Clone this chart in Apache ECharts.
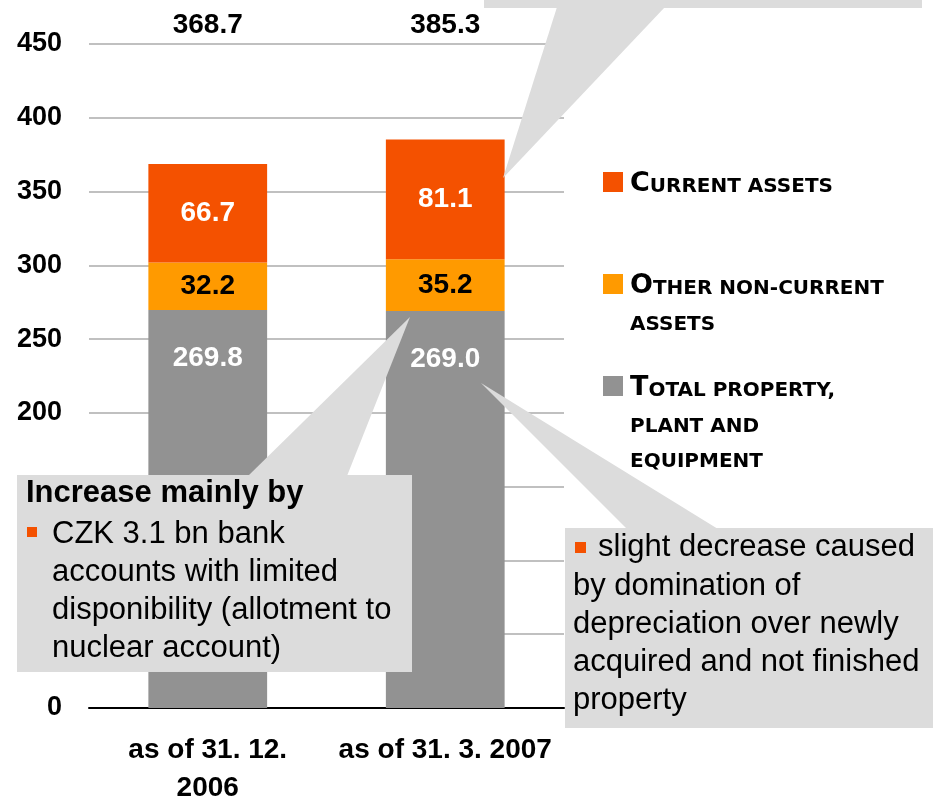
<!DOCTYPE html>
<html>
<head>
<meta charset="utf-8">
<script src="https://cdn.jsdelivr.net/npm/echarts@6/dist/echarts.min.js"></script>
<style>
  html, body { margin: 0; padding: 0; background: #fff; }
  #chart { width: 933px; height: 801px; }
</style>
</head>
<body>
<div id="chart"></div>
<script>
// data
var categories = ['as of 31. 12.\n2006', 'as of 31. 3. 2007'];
var ppe = [269.8, 269.0];
var otherNonCurrent = [32.2, 35.2];
var currentAssets = [66.7, 81.1];
var totals = [368.7, 385.3];
var yMin = 0, yMax = 450, yStep = 50;

var nameCurrent = 'Current assets';
var nameOther = 'Other non-current assets';
var namePpe = 'Total property, plant and equipment';
var legendNames = [nameCurrent, nameOther, namePpe];
var legendLines = [['Current assets'], ['Other non-current', 'assets'], ['Total property,', 'plant and', 'equipment']];

var leftNoteTitle = 'Increase mainly by';
var leftNoteLines = ['CZK 3.1 bn bank', 'accounts with limited', 'disponibility (allotment to', 'nuclear account)'];
var rightNoteFirst = 'slight decrease caused';
var rightNoteLines = ['by domination of', 'depreciation over newly', 'acquired and not finished', 'property'];

var cRed = '#F45100', cOrange = '#FF9A00', cGray = '#929292', cNote = '#DCDCDC';
var seriesColors = {};
seriesColors[nameCurrent] = cRed;
seriesColors[nameOther] = cOrange;
seriesColors[namePpe] = cGray;
var sans = '"Liberation Sans", Arial, sans-serif';

// legend text in small caps (first letter large)
function smallCaps(lines) {
  return lines.map(function(line, i) {
    var up = line.toUpperCase();
    if (i === 0) return '{b|' + up.charAt(0) + '}{s|' + up.slice(1) + '}';
    return '{r|' + up + '}';
  }).join('\n');
}
var capsFont = { fontFamily: 'DejaVu Sans', fontWeight: 'bold', fill: '#000' };
var capsRich = {
  b: Object.assign({ fontSize: 27, lineHeight: 37 }, capsFont),
  s: Object.assign({ fontSize: 20, lineHeight: 31, padding: [6, 0, 0, 0] }, capsFont),
  r: Object.assign({ fontSize: 20, lineHeight: 35, padding: [6, 0, 0, 0] }, capsFont)
};

var legendTops = [172, 274, 376];
var legendGraphics = [];
legendNames.forEach(function(name, i) {
  legendGraphics.push({ type: 'rect', shape: { x: 603, y: legendTops[i], width: 20, height: 20 },
    style: { fill: seriesColors[name] } });
  legendGraphics.push({ type: 'text', x: 630, y: legendTops[i] - 7,
    style: { text: smallCaps(legendLines[i]), rich: capsRich, verticalAlign: 'top', fill: '#000' } });
});

var segLabel = function(color, pos, dist) {
  return {
    show: true, position: pos, distance: dist || 5,
    color: color, fontFamily: sans, fontWeight: 'bold', fontSize: 28,
    formatter: function(p) { return p.value.toFixed(1); }
  };
};

var chart = echarts.init(document.getElementById('chart'));
chart.setOption({
  animation: false,
  grid: { left: 89, right: 369, top: 44, bottom: 93, outerBoundsMode: 'none' },
  xAxis: {
    type: 'category',
    data: categories,
    axisLine: { lineStyle: { color: '#000', width: 2 } },
    axisTick: { show: false },
    axisLabel: { interval: 0, color: '#000', fontFamily: sans, fontWeight: 'bold', fontSize: 28, lineHeight: 38, margin: 23 }
  },
  yAxis: {
    type: 'value',
    min: yMin, max: yMax, interval: yStep,
    axisLine: { show: false },
    axisTick: { show: false },
    axisLabel: { color: '#000', fontFamily: sans, fontWeight: 'bold', fontSize: 27, margin: 27 },
    splitLine: { lineStyle: { color: '#C0C0C0', width: 2 } }
  },
  series: [
    { name: namePpe, type: 'bar', stack: 'a', barWidth: '50%', data: ppe,
      itemStyle: { color: cGray }, label: segLabel('#fff', 'insideTop', 34) },
    { name: nameOther, type: 'bar', stack: 'a', barWidth: '50%', data: otherNonCurrent,
      itemStyle: { color: cOrange }, label: segLabel('#000', 'inside') },
    { name: nameCurrent, type: 'bar', stack: 'a', barWidth: '50%', data: currentAssets,
      itemStyle: { color: cRed }, label: segLabel('#fff', 'inside') },
    { name: 'total', type: 'scatter', symbolSize: 0, silent: true,
      itemStyle: { opacity: 1 },
      data: totals.map(function(t, i) { return [i, yMax]; }),
      label: {
        show: true, position: 'top', distance: 5,
        color: '#000', fontFamily: sans, fontWeight: 'bold', fontSize: 28,
        formatter: function(p) { return totals[p.dataIndex].toFixed(1); }
      }
    }
  ],
  graphic: legendGraphics.concat([
    // top callout (its text is off the picture)
    { type: 'rect', z: 100, shape: { x: 484, y: -60, width: 438, height: 68 }, style: { fill: cNote } },
    { type: 'polygon', z: 100, shape: { points: [[557, 7], [665, 7], [503, 178]] }, style: { fill: cNote } },
    // left callout
    { type: 'polygon', z: 100, shape: { points: [[248, 476], [347, 476], [410, 317]] }, style: { fill: cNote } },
    { type: 'rect', z: 100, shape: { x: 17, y: 475, width: 395, height: 197 }, style: { fill: cNote } },
    { type: 'text', z: 101, x: 26, y: 493,
      style: { text: leftNoteTitle, fill: '#000', fontFamily: sans, fontWeight: 'bold', fontSize: 31, verticalAlign: 'middle' } },
    { type: 'rect', z: 101, shape: { x: 27, y: 527, width: 10, height: 10 }, style: { fill: cRed } },
    { type: 'text', z: 101, x: 52, y: 515,
      style: { text: leftNoteLines.join('\n'), fill: '#000', fontFamily: sans, fontSize: 31, lineHeight: 38, verticalAlign: 'top' } },
    // right callout
    { type: 'polygon', z: 100, shape: { points: [[627, 529], [718, 529], [481, 383]] }, style: { fill: cNote } },
    { type: 'rect', z: 100, shape: { x: 565, y: 528, width: 380, height: 200 }, style: { fill: cNote } },
    { type: 'rect', z: 101, shape: { x: 575, y: 542, width: 11, height: 11 }, style: { fill: cRed } },
    { type: 'text', z: 101, x: 598, y: 547,
      style: { text: rightNoteFirst, fill: '#000', fontFamily: sans, fontSize: 31, verticalAlign: 'middle' } },
    { type: 'text', z: 101, x: 573, y: 567,
      style: { text: rightNoteLines.join('\n'), fill: '#000', fontFamily: sans, fontSize: 31, lineHeight: 38, verticalAlign: 'top' } }
  ])
});
window.addEventListener('resize', function() { chart.resize(); });
</script>
</body>
</html>
